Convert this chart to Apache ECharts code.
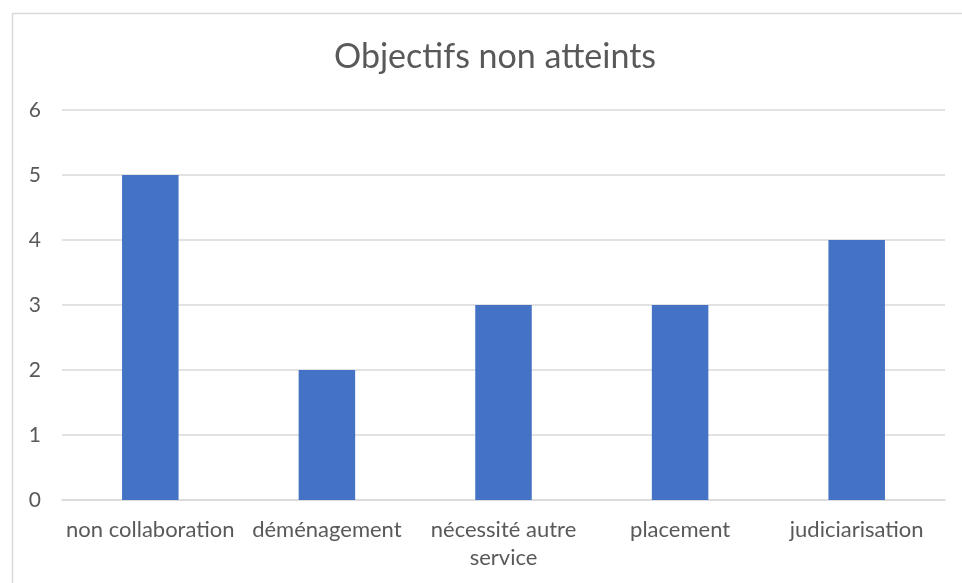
<!DOCTYPE html>
<html><head><meta charset="utf-8">
<script src="https://cdn.jsdelivr.net/npm/echarts@6/dist/echarts.min.js"></script>
<style>html,body{margin:0;padding:0;background:#fff}#c{width:962px;height:583px}</style>
</head><body><div id="c"></div>
<script>
const title = 'Objectifs non atteints';
const categories = ['non collaboration', 'déménagement', 'nécessité autre\nservice', 'placement', 'judiciarisation'];
const values = [5, 2, 3, 3, 4];
const yTicks = [0, 1, 2, 3, 4, 5, 6];

const chart = echarts.init(document.getElementById('c'));
const font = 'Lato, "Open Sans", sans-serif';
chart.setOption({
  animation: false,
  backgroundColor: '#fff',
  title: {
    text: title, left: 329, top: 35,
    textStyle: { fontFamily: font, fontSize: 34, fontWeight: 'normal', color: '#595959' }
  },
  graphic: [{
    type: 'rect', left: 10, top: 11, silent: true,
    shape: { x: 0, y: 0, width: 1000, height: 620 },
    style: { fill: 'none', stroke: '#d9d9d9', lineWidth: 1.5 }
  }],
  grid: { left: 62, right: 17, top: 110, bottom: 83, containLabel: false },
  xAxis: {
    type: 'category', data: categories,
    axisLine: { lineStyle: { color: '#d9d9d9', width: 1.5 } },
    axisTick: { show: false },
    axisLabel: { fontFamily: font, fontSize: 22, color: '#595959', margin: 16, interval: 0, lineHeight: 28 }
  },
  yAxis: {
    type: 'value', min: yTicks[0], max: yTicks[yTicks.length - 1], interval: 1,
    axisLine: { show: false }, axisTick: { show: false },
    splitLine: { lineStyle: { color: '#d9d9d9', width: 1.5 } },
    axisLabel: { fontFamily: font, fontSize: 21, color: '#595959', margin: 21 }
  },
  series: [{
    type: 'bar', data: values, barWidth: '32%',
    itemStyle: { color: '#4472c4' }
  }]
});
</script></body></html>
